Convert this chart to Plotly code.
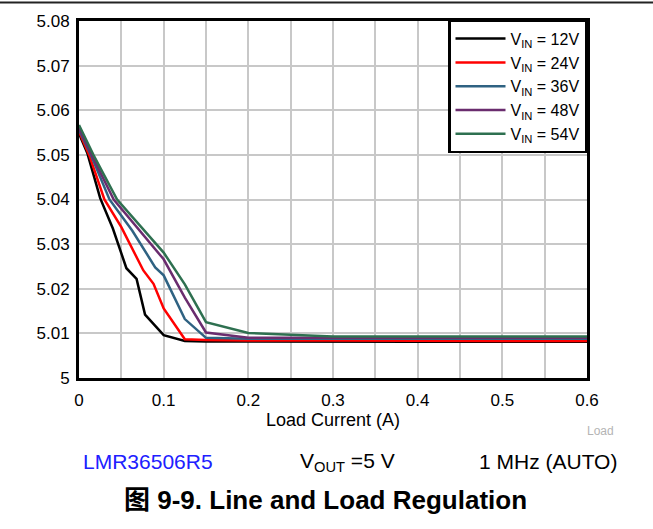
"""Line and load regulation: output voltage vs load current for several input voltages."""

import plotly.graph_objects as go

# ---------------------------------------------------------------------------
# Data
# ---------------------------------------------------------------------------
load_12v = [0, 0.01, 0.025, 0.04, 0.056, 0.068, 0.078, 0.1, 0.125, 0.15, 0.2, 0.3, 0.4, 0.5, 0.6]
vout_12v = [5.0548, 5.0503, 5.0403, 5.0335, 5.0246, 5.0222, 5.0142, 5.0096, 5.0083,
            5.0082, 5.0082, 5.0081, 5.0081, 5.0081, 5.0081]

load_24v = [0, 0.012, 0.03, 0.05, 0.076, 0.088, 0.1, 0.125, 0.15, 0.2, 0.3, 0.4, 0.5, 0.6]
vout_24v = [5.0552, 5.0500, 5.0400, 5.0338, 5.0241, 5.0211, 5.0156, 5.0087, 5.0085,
            5.0084, 5.0084, 5.0083, 5.0083, 5.0083]

load_36v = [0, 0.014, 0.036, 0.063, 0.09, 0.1, 0.125, 0.15, 0.2, 0.3, 0.4, 0.5, 0.6]
vout_36v = [5.0556, 5.0500, 5.0400, 5.0330, 5.0248, 5.0230, 5.0132, 5.0090, 5.0088,
            5.0088, 5.0088, 5.0088, 5.0088]

load_48v = [0, 0.015, 0.041, 0.072, 0.1, 0.125, 0.15, 0.2, 0.3, 0.4, 0.5, 0.6]
vout_48v = [5.0560, 5.0500, 5.0400, 5.0330, 5.0266, 5.0180, 5.0102, 5.0090, 5.0090,
            5.0090, 5.0090, 5.0090]

load_54v = [0, 0.017, 0.045, 0.077, 0.1, 0.125, 0.15, 0.2, 0.25, 0.3, 0.4, 0.5, 0.6]
vout_54v = [5.0567, 5.0500, 5.0400, 5.0330, 5.0281, 5.0210, 5.0125, 5.0101, 5.0097,
            5.0093, 5.0093, 5.0093, 5.0093]

series_names = ["V<sub>IN</sub> = 12V", "V<sub>IN</sub> = 24V", "V<sub>IN</sub> = 36V",
                "V<sub>IN</sub> = 48V", "V<sub>IN</sub> = 54V"]
series_colors = ["#000000", "#ff0000", "#2f6282", "#6a2c6e", "#2e7050"]

x_tickvals = [0, 0.1, 0.2, 0.3, 0.4, 0.5, 0.6]
x_ticktext = ["0", "0.1", "0.2", "0.3", "0.4", "0.5", "0.6"]
y_tickvals = [5, 5.01, 5.02, 5.03, 5.04, 5.05, 5.06, 5.07, 5.08]
y_ticktext = ["5", "5.01", "5.02", "5.03", "5.04", "5.05", "5.06", "5.07", "5.08"]

FONT = "Liberation Sans, Arial, Noto Sans CJK SC, sans-serif"
GRID = "#c8c8c8"

fig = go.Figure()
for xs, ys, name, color in zip(
    [load_12v, load_24v, load_36v, load_48v, load_54v],
    [vout_12v, vout_24v, vout_36v, vout_48v, vout_54v],
    series_names,
    series_colors,
):
    fig.add_trace(go.Scatter(x=xs, y=ys, mode="lines", name=name,
                             line={"color": color, "width": 2.5}))

fig.update_layout(
    width=653,
    height=529,
    margin={"l": 79, "r": 66, "t": 19, "b": 151},
    paper_bgcolor="white",
    plot_bgcolor="white",
    font={"family": FONT, "size": 17, "color": "black"},
    showlegend=True,
    legend={
        "x": 1, "y": 1.005, "xanchor": "right", "yanchor": "top",
        "bgcolor": "white", "bordercolor": "black", "borderwidth": 2.5,
        "font": {"size": 16, "family": FONT},
        "itemwidth": 50,
        "tracegroupgap": 0,
    },
    xaxis={
        "range": [0, 0.6],
        "tickvals": x_tickvals,
        "ticktext": x_ticktext,
        "showgrid": True,
        "gridcolor": GRID,
        "gridwidth": 1.5,
        "minor": {"dtick": 0.05, "showgrid": True, "gridcolor": GRID, "gridwidth": 1.5},
        "showline": True, "linecolor": "black", "linewidth": 3, "mirror": True,
        "zeroline": False,
        "ticks": "",
        "ticklabelstandoff": 5,
        "title": {"text": "Load Current (A)", "standoff": 2, "font": {"size": 18}},
    },
    yaxis={
        "range": [5, 5.08],
        "tickvals": y_tickvals,
        "ticktext": y_ticktext,
        "showgrid": True,
        "gridcolor": GRID,
        "gridwidth": 1.5,
        "showline": True, "linecolor": "black", "linewidth": 3, "mirror": True,
        "zeroline": False,
        "ticks": "",
        "ticklabelstandoff": 3,
    },
)

# thin rule across the very top of the page
fig.add_shape(type="line", xref="paper", yref="paper",
              x0=-79 / 508, x1=574 / 508, y0=377.5 / 359, y1=377.5 / 359,
              line={"color": "#222222", "width": 2})

notes = [
    ("Load", 1.0256, -0.1476, 12, "#b4b4b4"),
    ("LMR36506R5", 0.1358, -0.234, 21, "#2020ff"),
    ("V<sub>OUT</sub> =5 V", 0.5276, -0.234, 21, "black"),
    ("1 MHz (AUTO)", 0.923, -0.234, 21, "black"),
    ("<b>图 9-9. Line and Load Regulation</b>", 0.4843, -0.3426, 26, "black"),
]
for text, x, y, size, color in notes:
    fig.add_annotation(text=text, x=x, y=y, xref="paper", yref="paper",
                       xanchor="center", yanchor="middle", showarrow=False,
                       font={"size": size, "color": color, "family": FONT})

# drop the browser's default body margin so the figure sits at the page corner
fig.write_html("out.html", config={"displayModeBar": False},
               post_script="document.body.style.margin = '0px';")
